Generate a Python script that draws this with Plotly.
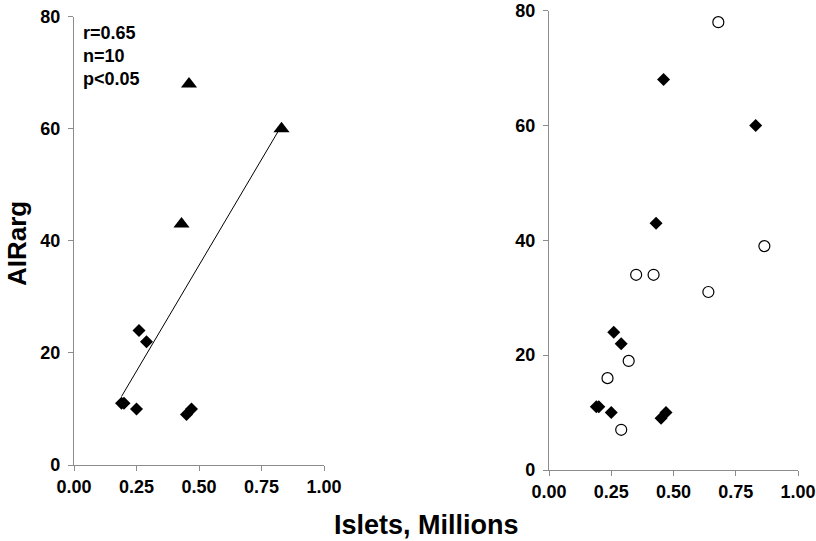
import numpy as np
import plotly.graph_objects as go

# Left panel data
tri_x = [0.46, 0.83, 0.43]
tri_y = [68, 60, 43]
dia_x = [0.26, 0.29, 0.19, 0.20, 0.25, 0.45, 0.47]
dia_y = [24, 22, 11, 11, 10, 9, 10]

# Right panel data
r_dia_x = [0.46, 0.83, 0.43, 0.26, 0.29, 0.19, 0.20, 0.25, 0.45, 0.47]
r_dia_y = [68, 60, 43, 24, 22, 11, 11, 10, 9, 10]
circ_x = [0.68, 0.865, 0.35, 0.42, 0.64, 0.32, 0.235, 0.29]
circ_y = [78, 39, 34, 34, 31, 19, 16, 7]

x_ticks = [0, 0.25, 0.5, 0.75, 1.0]
x_tick_labels = ["0.00", "0.25", "0.50", "0.75", "1.00"]
y_ticks = [0, 20, 40, 60, 80]
stats_text = ["r=0.65", "n=10", "p<0.05"]

W, H = 816, 541
FONT = "Liberation Sans, Arial, sans-serif"


def px(sx):
    return sx / W


def py(sy):
    return 1 - sy / H


# regression over all left-panel points
all_x = np.array(tri_x + dia_x)
all_y = np.array(tri_y + dia_y)
slope, intercept = np.polyfit(all_x, all_y, 1)
fit_x = np.array([all_x.min(), all_x.max()])
fit_y = slope * fit_x + intercept

fig = go.Figure()
fig.add_trace(go.Scatter(x=fit_x, y=fit_y, mode="lines",
                         line=dict(color="black", width=1),
                         xaxis="x", yaxis="y", showlegend=False))
fig.add_trace(go.Scatter(x=tri_x, y=tri_y, mode="markers",
                         marker=dict(symbol="triangle-up", size=14, color="black"),
                         xaxis="x", yaxis="y", showlegend=False))
fig.add_trace(go.Scatter(x=dia_x, y=dia_y, mode="markers",
                         marker=dict(symbol="diamond", size=10, color="black"),
                         xaxis="x", yaxis="y", showlegend=False))
fig.add_trace(go.Scatter(x=r_dia_x, y=r_dia_y, mode="markers",
                         marker=dict(symbol="diamond", size=10, color="black"),
                         xaxis="x2", yaxis="y2", showlegend=False))
fig.add_trace(go.Scatter(x=circ_x, y=circ_y, mode="markers",
                         marker=dict(symbol="circle", size=11, color="white",
                                     line=dict(color="black", width=1.2)),
                         xaxis="x2", yaxis="y2", showlegend=False))

axis_common = dict(showgrid=False, zeroline=False, showline=True, automargin=False,
                   linecolor="#8c8c8c", linewidth=1.2, ticks="outside",
                   ticklen=5, tickcolor="#8c8c8c", tickwidth=1.2,
                   ticklabeloverflow="allow",
                   tickfont=dict(family=FONT, size=18, color="black", weight="bold"))

xa = dict(axis_common, range=[0, 1], tickvals=x_ticks, ticktext=x_tick_labels)
ya = dict(axis_common, range=[0, 80], tickvals=y_ticks, ticklabelstandoff=4)

fig.update_layout(
    width=W, height=H,
    margin=dict(l=0, r=0, t=0, b=0, pad=0),
    paper_bgcolor="white", plot_bgcolor="white",
    xaxis=dict(xa, domain=[px(74), px(324)], anchor="y"),
    yaxis=dict(ya, domain=[py(465), py(16.7)], anchor="x"),
    xaxis2=dict(xa, domain=[px(549), px(798)], anchor="y2"),
    yaxis2=dict(ya, domain=[py(470), py(10.7)], anchor="x2"),
)

annotations = []
for i, t in enumerate(stats_text):
    annotations.append(dict(text="<b>%s</b>" % t, xref="paper", yref="paper",
                            x=px(81), y=py(33 + 23 * i), xanchor="left", yanchor="middle",
                            showarrow=False,
                            font=dict(family=FONT, size=18, color="black")))
annotations.append(dict(text="<b>Islets, Millions</b>", xref="paper", yref="paper",
                        x=px(426), y=py(525), xanchor="center", yanchor="middle",
                        showarrow=False, font=dict(family=FONT, size=27, color="black")))
annotations.append(dict(text="<b>AIRarg</b>", xref="paper", yref="paper",
                        x=px(17), y=py(244), xanchor="center", yanchor="middle",
                        textangle=-90, showarrow=False,
                        font=dict(family=FONT, size=26, color="black")))
fig.update_layout(annotations=annotations)

fig.write_html("out.html",
               config={"displayModeBar": False},
               post_script="document.body.style.margin='0';document.body.style.padding='0';")
